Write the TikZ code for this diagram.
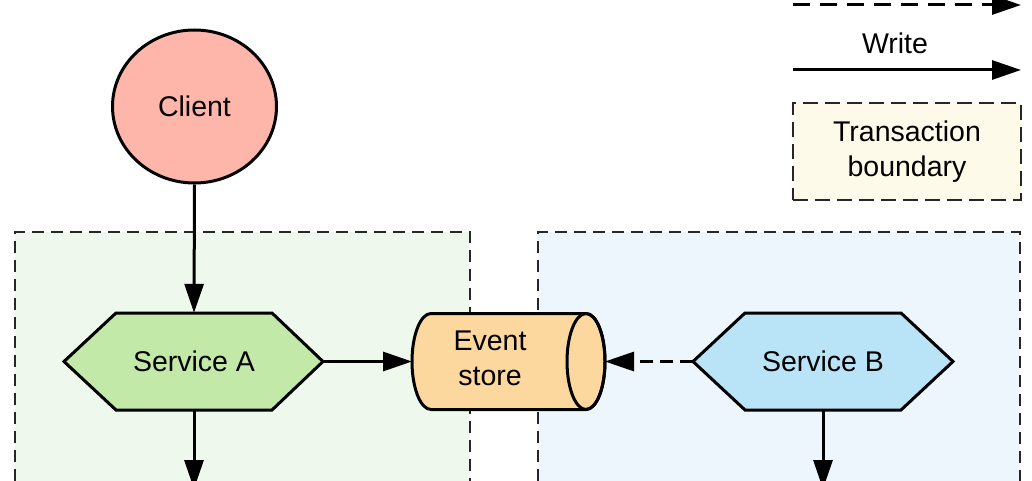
\documentclass[tikz,border=0pt]{standalone}
\usepackage{fontspec}
\setmainfont{Liberation Sans}
\usetikzlibrary{arrows.meta,shapes.geometric}
\definecolor{clientfill}{RGB}{255,182,170}
\definecolor{safill}{RGB}{194,233,168}
\definecolor{sbfill}{RGB}{185,227,246}
\definecolor{storefill}{RGB}{253,216,158}
\definecolor{leftbox}{RGB}{239,248,236}
\definecolor{rightbox}{RGB}{238,246,253}
\definecolor{legbox}{RGB}{253,250,234}
\tikzset{
  lbl/.style={font=\fontsize{28.5}{34.5}\selectfont, align=center, inner sep=0pt},
  shapeline/.style={draw=black, line width=3pt, line join=miter},
  tbox/.style={draw=black!85, line width=1.5pt, dash pattern=on 12pt off 7pt},
  tip/.style={-{Triangle[length=29pt,width=19pt]}},
  wline/.style={line width=3pt, tip},
  rline/.style={line width=3pt, tip, dash pattern=on 13pt off 7pt},
}
\begin{document}
\begin{tikzpicture}[x=1pt,y=1pt]
\useasboundingbox (0,0) rectangle (1032,480);
% transaction boundaries
\path[tbox, fill=leftbox] (15,-20) rectangle (470,248);
\path[tbox, fill=rightbox] (538,-20) rectangle (1020,248);
% hexagons
\path[shapeline, fill=safill] (64,118.5) -- (116,167) -- (272,167) -- (323,118.5) -- (272,70) -- (116,70) -- cycle;
\path[shapeline, fill=sbfill] (693,118.5) -- (745,167) -- (901,167) -- (953,118.5) -- (901,70) -- (745,70) -- cycle;
\coordinate (sa-e) at (323,118.5);
\coordinate (sb-w) at (693,118.5);
% cylinder
\path[shapeline, fill=storefill] (431,166.5) -- (586,166.5) arc[start angle=90, end angle=-90, x radius=19, y radius=48] -- (431,70.5) arc[start angle=270, end angle=90, x radius=19, y radius=48] -- cycle;
\draw[line width=3pt] (586,118.5) ellipse[x radius=19, y radius=48];
\coordinate (es-w) at (412,118.5);
\coordinate (es-e) at (605,118.5);
% nodes
\node[ellipse, shapeline, fill=clientfill, minimum width=164, minimum height=153, inner sep=0pt, lbl] (client) at (194.5,373.5) {Client};
\node[lbl, minimum width=156, minimum height=97] (sa) at (194,118.5) {Service A};
\node[lbl, minimum width=156, minimum height=97] (sb) at (823,118.5) {Service B};
\node[lbl] (es) at (490,121.5) {Event\\store};
% connectors
\draw[wline] (client.south) -- (sa.north);
\draw[wline] (sa-e) -- (es-w);
\draw[rline] (sb-w) -- (es-e);
\coordinate (sa-out) at (194,-9);
\coordinate (sb-out) at (823,-9);
\draw[wline] (sa.south) -- (sa-out);
\draw[wline] (sb.south) -- (sb-out);
% legend
\coordinate (r1) at (793,475);
\coordinate (r2) at (1021,475);
\draw[line width=3pt, tip, dash pattern=on 17pt off 10pt] (r1) -- (r2);
\node[lbl] (wlbl) at (895,437) {Write};
\coordinate (w1) at (793,410);
\coordinate (w2) at (1021,410);
\draw[wline] (w1) -- (w2);
\node[lbl, tbox, fill=legbox, minimum width=228, minimum height=97, dash pattern=on 15pt off 7pt] (legend) at (907,328.5) {Transaction\\boundary};
\end{tikzpicture}
\end{document}
